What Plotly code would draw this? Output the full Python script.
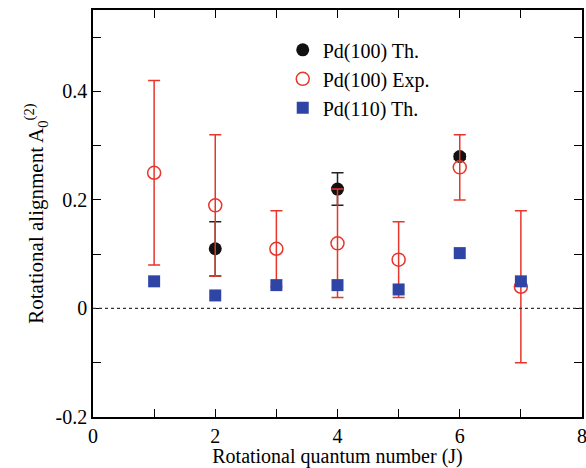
import plotly.graph_objects as go

J_th100 = [2, 4, 6]
A_th100 = [0.11, 0.22, 0.28]
E_th100 = [0.05, 0.03, 0.005]

J_exp = [1, 2, 3, 4, 5, 6, 7]
A_exp = [0.25, 0.19, 0.11, 0.12, 0.09, 0.26, 0.04]
E_exp = [0.17, 0.13, 0.07, 0.10, 0.07, 0.06, 0.14]

J_th110 = [1, 2, 3, 4, 5, 6, 7]
A_th110 = [0.05, 0.024, 0.043, 0.043, 0.035, 0.102, 0.05]

y_tickvals = [-0.2, 0, 0.2, 0.4]
y_ticktext = ["-0.2", "0", "0.2", "0.4"]

font = "Times New Roman"

fig = go.Figure()
fig.add_trace(go.Scatter(
    x=J_th100, y=A_th100, mode="markers", name="Pd(100) Th.",
    marker=dict(symbol="circle", size=13, color="#111111"),
    error_y=dict(type="data", array=E_th100, color="#222222", thickness=1.5, width=6)))
fig.add_trace(go.Scatter(
    x=J_exp, y=A_exp, mode="markers", name="Pd(100) Exp.",
    marker=dict(symbol="circle-open", size=13, color="#e8352b", line=dict(width=1.5)),
    error_y=dict(type="data", array=E_exp, color="#e8352b", thickness=1.5, width=6)))
fig.add_trace(go.Scatter(
    x=J_th110, y=A_th110, mode="markers", name="Pd(110) Th.",
    marker=dict(symbol="square", size=12, color="#2e45a6")))

fig.add_shape(type="line", x0=0, x1=8, y0=0, y1=0, xref="x", yref="y",
              line=dict(color="#333333", width=1.2, dash="dot"))

axis_common = dict(showgrid=False, zeroline=False, showline=True, linecolor="black",
                   linewidth=1.5, mirror="ticks", ticks="inside", ticklen=8,
                   tickwidth=1.2, tickcolor="black", automargin=False,
                   ticklabeloverflow="allow",
                   tickfont=dict(family=font, size=20, color="black"))

fig.update_xaxes(range=[0, 8], dtick=2, tick0=0,
                 minor=dict(dtick=1, ticks="inside", ticklen=8, tickwidth=1.2, tickcolor="black"),
                 title=dict(text="Rotational quantum number (J)", font=dict(family=font, size=20, color="black"),
                            standoff=2),
                 **axis_common)
fig.update_yaxes(range=[-0.2, 0.55], tickmode="array", tickvals=y_tickvals, ticktext=y_ticktext,
                 minor=dict(dtick=0.1, tick0=0, ticks="inside", ticklen=8, tickwidth=1.2, tickcolor="black"),
                 title=dict(text="Rotational alignment A<sub>0</sub><sup>(2)</sup>",
                            font=dict(family=font, size=21, color="black"), standoff=6),
                 **axis_common)

fig.update_layout(
    width=586, height=468,
    margin=dict(l=93, r=4, t=10, b=51),
    plot_bgcolor="white", paper_bgcolor="white",
    font=dict(family=font),
    showlegend=True,
    legend=dict(x=0.388, y=0.95, xanchor="left", yanchor="top",
                bgcolor="rgba(0,0,0,0)", font=dict(family=font, size=20, color="black"),
                itemwidth=30, tracegroupgap=0),
)

fig.write_html("out.html")
